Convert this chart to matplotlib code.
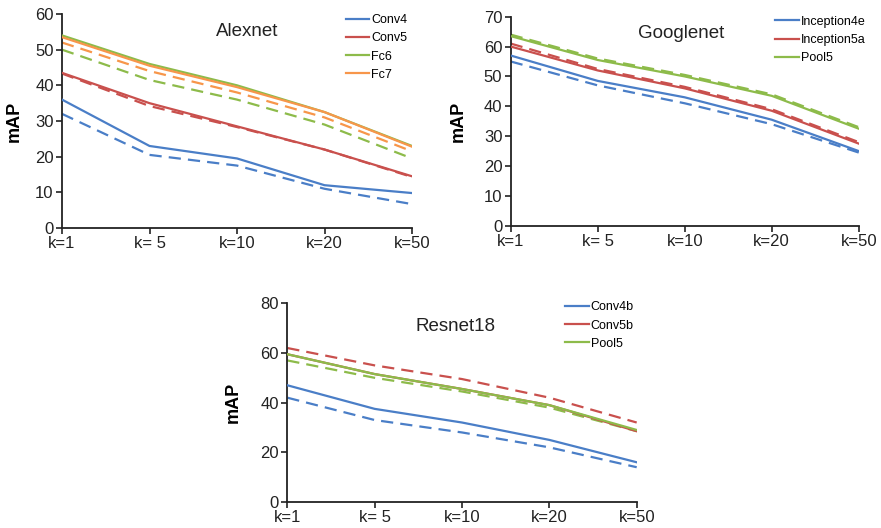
import matplotlib
matplotlib.use("Agg")
import matplotlib.pyplot as plt

plt.rcParams['font.family'] = ['Liberation Sans', 'DejaVu Sans']

k_labels = ["k=1", "k= 5", "k=10", "k=20", "k=50"]

BLUE, RED, GREEN, ORANGE = "#4A7EC7", "#C9504D", "#8DBB4A", "#F7964A"

# Alexnet
alex_names = ["Conv4", "Conv5", "Fc6", "Fc7"]
alex_solid = [
    [36, 23, 19.5, 12, 9.8],
    [43.5, 35, 28.5, 22, 14.5],
    [54, 46, 40, 32.5, 23],
    [53.5, 45.5, 39.5, 32.5, 22.8],
]
alex_dashed = [
    [32, 20.5, 17.5, 11, 6.7],
    [43.3, 34.2, 28.3, 22, 14.3],
    [50, 41.5, 36, 29, 19.5],
    [52, 44, 38, 31, 21.5],
]
alex_colors = [BLUE, RED, GREEN, ORANGE]

# Googlenet
goog_names = ["Inception4e", "Inception5a", "Pool5"]
goog_solid = [
    [57, 48.5, 43, 35.5, 25],
    [60, 52, 46, 38.5, 27.5],
    [63.5, 55.5, 50, 43.5, 32.5],
]
goog_dashed = [
    [55, 47, 41, 34, 24.5],
    [61, 52.5, 46.5, 39, 28],
    [64, 56, 50.5, 44, 33],
]
goog_colors = [BLUE, RED, GREEN]

# Resnet18
res_names = ["Conv4b", "Conv5b", "Pool5"]
res_solid = [
    [47, 37.5, 32, 25, 16],
    [59.5, 51.5, 45.5, 39, 28.5],
    [59.5, 51.5, 45.5, 39, 29],
]
res_dashed = [
    [42, 33, 28, 22, 14],
    [62, 55, 49.5, 42, 32],
    [57, 50, 44.5, 38, 28.5],
]
res_colors = [BLUE, RED, GREEN]

fig = plt.figure(figsize=(8.81, 5.28), dpi=100)

W, H = 881, 528
def axes_px(left, right, top, bottom):
    return fig.add_axes([left / W, 1 - bottom / H, (right - left) / W, (bottom - top) / H])

panels = [
    dict(ax=axes_px(62, 412, 14, 228), title="Alexnet", names=alex_names, solid=alex_solid,
         dashed=alex_dashed, colors=alex_colors, ymax=60, title_xy=(0.53, 0.917),
         leg_xy=(0.81, 1.0), ylab_x=-0.111),
    dict(ax=axes_px(510.7, 858.7, 16.7, 225.7), title="Googlenet", names=goog_names, solid=goog_solid,
         dashed=goog_dashed, colors=goog_colors, ymax=70, title_xy=(0.49, 0.92),
         leg_xy=(0.76, 1.005), ylab_x=-0.126),
    dict(ax=axes_px(287.3, 636.7, 303.3, 502), title="Resnet18", names=res_names, solid=res_solid,
         dashed=res_dashed, colors=res_colors, ymax=80, title_xy=(0.482, 0.882),
         leg_xy=(0.795, 1.01), ylab_x=-0.129),
]

x = list(range(len(k_labels)))
for p in panels:
    ax = p["ax"]
    handles = []
    for name, s, d, c in zip(p["names"], p["solid"], p["dashed"], p["colors"]):
        ax.plot(x, d, color=c, lw=1.6, dashes=(5.5, 3.2), zorder=2)
    for name, s, d, c in zip(p["names"], p["solid"], p["dashed"], p["colors"]):
        h, = ax.plot(x, s, color=c, lw=1.6, label=name, zorder=3)
        handles.append(h)
    ax.set_xlim(0, len(k_labels) - 1)
    ax.set_ylim(0, p["ymax"])
    ax.set_xticks(x)
    ax.set_xticklabels(k_labels)
    ax.set_yticks(range(0, p["ymax"] + 1, 10 if p["ymax"] <= 70 else 20))
    for sp in ["top", "right"]:
        ax.spines[sp].set_visible(False)
    for sp in ["left", "bottom"]:
        ax.spines[sp].set_linewidth(1.3)
        ax.spines[sp].set_color("#222222")
    ax.tick_params(axis="both", direction="out", length=4, width=1.2, labelsize=12,
                   colors="#222222", pad=2)
    ax.set_ylabel("mAP", fontsize=13, fontweight="bold")
    ax.yaxis.set_label_coords(p["ylab_x"], 0.5)
    ax.text(p["title_xy"][0], p["title_xy"][1], p["title"], transform=ax.transAxes,
            ha="center", va="center", fontsize=13.5, color="#222222")
    ax.legend(handles=handles, loc="upper left", bbox_to_anchor=p["leg_xy"], frameon=False,
              fontsize=9, borderpad=0, borderaxespad=0, handlelength=1.9,
              handletextpad=0.15, labelspacing=0.5)

fig.savefig("out.png", dpi=100)
